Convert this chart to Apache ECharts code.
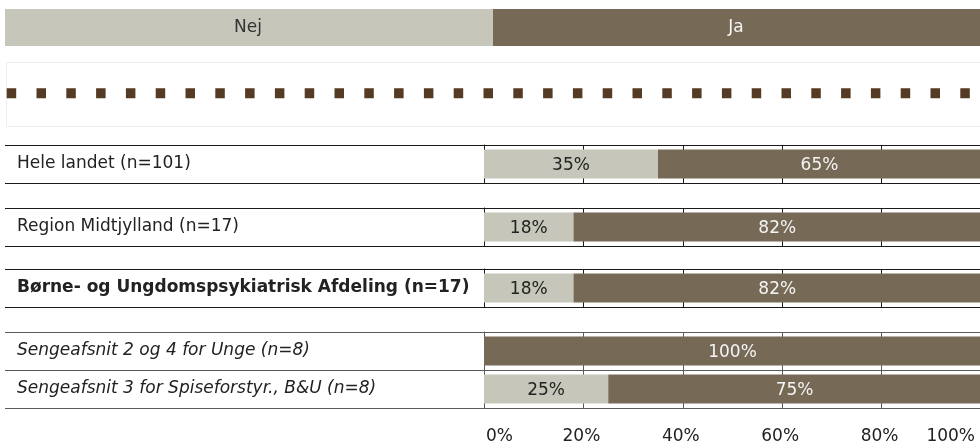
<!DOCTYPE html>
<html>
<head>
<meta charset="utf-8">
<script src="https://cdn.jsdelivr.net/npm/echarts@6/dist/echarts.min.js"></script>
<style>
html,body{margin:0;padding:0;background:#fff;}
#chart{width:980px;height:441px;}
</style>
</head>
<body>
<div id="chart"></div>
<script>
// ---- data ----
const categories = [
  'Hele landet (n=101)',
  'Region Midtjylland (n=17)',
  'Børne- og Ungdomspsykiatrisk Afdeling (n=17)',
  'Sengeafsnit 2 og 4 for Unge (n=8)',
  'Sengeafsnit 3 for Spiseforstyr., B&U (n=8)'
];
const seriesNames = ['Nej', 'Ja'];
const nejValues = [35, 18, 18, 0, 25];
const jaValues = [65, 82, 82, 100, 75];
const tickValues = [0, 20, 40, 60, 80, 100];
// rows shown in each block of the table
const groups = [[0], [1], [2], [3, 4]];

// ---- styles / layout ----
const FONT = 'DejaVu Sans';
const FS = 17;
const NEJ_COLOR = '#c6c7ba';
const JA_COLOR = '#766a57';
const groupTops = [145, 208, 269, 332];
const BAND = 38;
const LEFT = 484;
const labelStyles = [
  {fontWeight: 'normal', fontStyle: 'normal', line: '#1a1a1a'},
  {fontWeight: 'normal', fontStyle: 'normal', line: '#1a1a1a'},
  {fontWeight: 'bold', fontStyle: 'normal', line: '#1a1a1a'},
  {fontWeight: 'normal', fontStyle: 'italic', line: '#5a5a5a'}
];

const chart = echarts.init(document.getElementById('chart'), null, {renderer: 'canvas'});

const grid = [], xAxis = [], yAxis = [], series = [];
groups.forEach((rows, gi) => {
  const st = labelStyles[gi];
  const last = gi === groups.length - 1;
  grid.push({left: LEFT, right: -1, top: groupTops[gi], height: BAND * rows.length,
    containLabel: false, outerBoundsMode: 'none'});
  xAxis.push({
    type: 'value', gridIndex: gi, min: tickValues[0], max: tickValues[tickValues.length - 1], interval: 20,
    axisLine: {show: false}, axisTick: {show: false},
    splitLine: {show: true, lineStyle: {color: st.line, width: 1}},
    axisLabel: {
      show: last, formatter: '{value}%', fontFamily: FONT, fontSize: FS, color: '#222', margin: 20,
      alignMinLabel: 'left', alignMaxLabel: 'right', padding: [0, 6, 0, 2]
    }
  });
  yAxis.push({
    type: 'category', gridIndex: gi, inverse: true,
    data: rows.map(r => categories[r]),
    axisLine: {show: true, lineStyle: {color: st.line, width: 1}},
    axisTick: {show: true, inside: false, length: LEFT - 5, interval: 0, lineStyle: {color: st.line, width: 1}},
    splitLine: {show: true, interval: 0, lineStyle: {color: st.line, width: 1}},
    axisLabel: {
      interval: 0, align: 'left', margin: LEFT - 17, fontFamily: FONT, fontSize: FS, color: '#222',
      fontWeight: st.fontWeight, fontStyle: st.fontStyle, padding: [4, 0, 0, 0]
    }
  });
  const mk = (name, vals, color, labelColor) => ({
    type: 'bar', name: name, stack: 'g' + gi, xAxisIndex: gi, yAxisIndex: gi,
    barWidth: 29, itemStyle: {color: color},
    data: rows.map(r => vals[r]),
    label: {
      show: true, position: 'inside', offset: [0, 2], fontFamily: FONT, fontSize: FS, color: labelColor,
      formatter: p => (p.value > 0 ? p.value + '%' : '')
    },
    emphasis: {disabled: true}, animation: false
  });
  series.push(mk(seriesNames[0], nejValues, NEJ_COLOR, '#222'));
  series.push(mk(seriesNames[1], jaValues, JA_COLOR, '#f4f4f4'));
});

const graphic = [
  {type: 'rect', shape: {x: 5, y: 9, width: 488, height: 37}, style: {fill: NEJ_COLOR}},
  {type: 'rect', shape: {x: 493, y: 9, width: 487, height: 37}, style: {fill: JA_COLOR}},
  {type: 'text', x: 248, y: 28, style: {text: seriesNames[0], font: FS + 'px "DejaVu Sans"', fill: '#333', align: 'center', verticalAlign: 'middle'}},
  {type: 'text', x: 736, y: 28, style: {text: seriesNames[1], font: FS + 'px "DejaVu Sans"', fill: '#f4f4f4', align: 'center', verticalAlign: 'middle'}},
  {type: 'rect', shape: {x: 6.5, y: 62.5, width: 980, height: 64}, style: {fill: 'none', stroke: '#eeeeee', lineWidth: 1}},
  {type: 'line', shape: {x1: 6.7, y1: 93.3, x2: 975, y2: 93.3}, style: {stroke: '#553a24', lineWidth: 10, lineDash: [9.5, 20.3]}}
];

chart.setOption({
  animation: false,
  grid: grid, xAxis: xAxis, yAxis: yAxis, series: series, graphic: graphic
});
</script>
</body>
</html>
